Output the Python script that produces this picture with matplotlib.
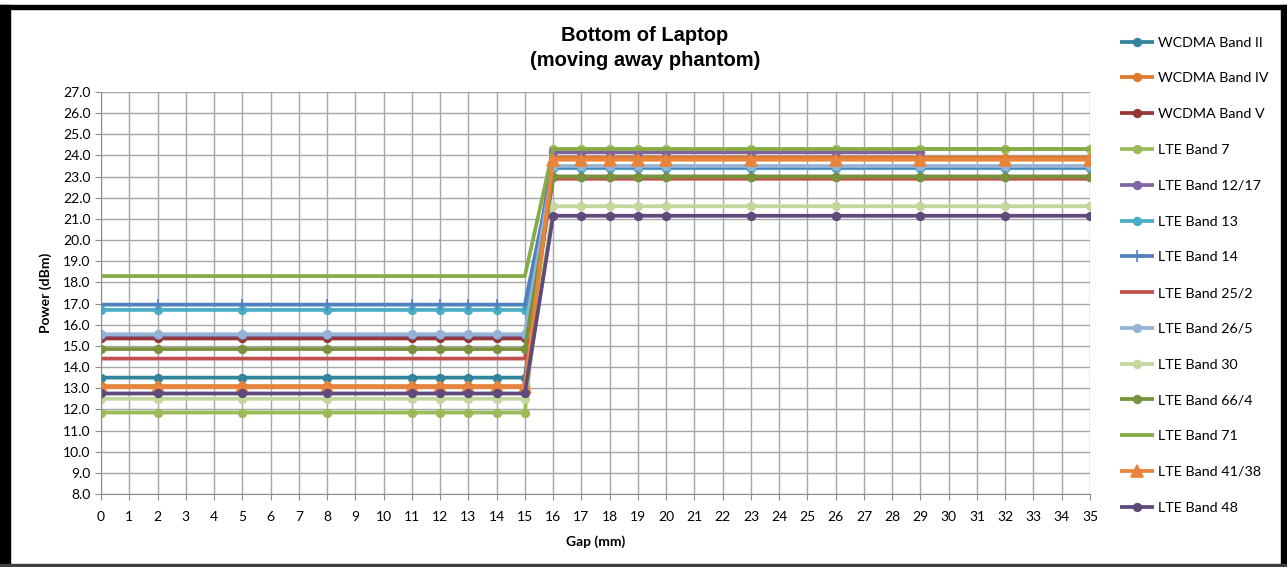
import matplotlib
matplotlib.use('Agg')
import matplotlib.pyplot as plt
from matplotlib.patches import Rectangle

# --- data ---
gap = [0, 2, 5, 8, 11, 12, 13, 14, 15, 16, 17, 18, 19, 20, 23, 26, 29, 32, 35]
gap_1217 = [0, 2, 5, 8, 11, 12, 13, 14, 15, 16, 17, 18, 19, 20, 23, 26, 29]

wcdma_2 = [13.5, 13.5, 13.5, 13.5, 13.5, 13.5, 13.5, 13.5, 13.5, 23.4, 23.4, 23.4, 23.4, 23.4, 23.4, 23.4, 23.4, 23.4, 23.4]
wcdma_4 = [13.1, 13.1, 13.1, 13.1, 13.1, 13.1, 13.1, 13.1, 13.1, 23.9, 23.9, 23.9, 23.9, 23.9, 23.9, 23.9, 23.9, 23.9, 23.9]
wcdma_5 = [15.35, 15.35, 15.35, 15.35, 15.35, 15.35, 15.35, 15.35, 15.35, 23.0, 23.0, 23.0, 23.0, 23.0, 23.0, 23.0, 23.0, 23.0, 23.0]
lte_7 = [11.85, 11.85, 11.85, 11.85, 11.85, 11.85, 11.85, 11.85, 11.85, 24.3, 24.3, 24.3, 24.3, 24.3, 24.3, 24.3, 24.3, 24.3, 24.3]
lte_1217 = [15.5, 15.5, 15.5, 15.5, 15.5, 15.5, 15.5, 15.5, 15.5, 24.15, 24.15, 24.15, 24.15, 24.15, 24.15, 24.15, 24.15]
lte_13 = [16.7, 16.7, 16.7, 16.7, 16.7, 16.7, 16.7, 16.7, 16.7, 23.4, 23.4, 23.4, 23.4, 23.4, 23.4, 23.4, 23.4, 23.4, 23.4]
lte_14 = [16.95, 16.95, 16.95, 16.95, 16.95, 16.95, 16.95, 16.95, 16.95, 23.45, 23.45, 23.45, 23.45, 23.45, 23.45, 23.45, 23.45, 23.45, 23.45]
lte_252 = [14.4, 14.4, 14.4, 14.4, 14.4, 14.4, 14.4, 14.4, 14.4, 22.9, 22.9, 22.9, 22.9, 22.9, 22.9, 22.9, 22.9, 22.9, 22.9]
lte_265 = [15.55, 15.55, 15.55, 15.55, 15.55, 15.55, 15.55, 15.55, 15.55, 23.5, 23.5, 23.5, 23.5, 23.5, 23.5, 23.5, 23.5, 23.5, 23.5]
lte_30 = [12.5, 12.5, 12.5, 12.5, 12.5, 12.5, 12.5, 12.5, 12.5, 21.6, 21.6, 21.6, 21.6, 21.6, 21.6, 21.6, 21.6, 21.6, 21.6]
lte_664 = [14.85, 14.85, 14.85, 14.85, 14.85, 14.85, 14.85, 14.85, 14.85, 23.0, 23.0, 23.0, 23.0, 23.0, 23.0, 23.0, 23.0, 23.0, 23.0]
lte_71 = [18.3, 18.3, 18.3, 18.3, 18.3, 18.3, 18.3, 18.3, 18.3, 24.3, 24.3, 24.3, 24.3, 24.3, 24.3, 24.3, 24.3, 24.3, 24.3]
lte_4138 = [13.05, 13.05, 13.05, 13.05, 13.05, 13.05, 13.05, 13.05, 13.05, 23.8, 23.8, 23.8, 23.8, 23.8, 23.8, 23.8, 23.8, 23.8, 23.8]
lte_48 = [12.75, 12.75, 12.75, 12.75, 12.75, 12.75, 12.75, 12.75, 12.75, 21.15, 21.15, 21.15, 21.15, 21.15, 21.15, 21.15, 21.15, 21.15, 21.15]

# (label, x, y, color, marker)
series = [
    ('WCDMA Band II', gap, wcdma_2, '#31849B', 'o'),
    ('WCDMA Band IV', gap, wcdma_4, '#E07A2E', 'o'),
    ('WCDMA Band V', gap, wcdma_5, '#953735', 'o'),
    ('LTE Band 7', gap, lte_7, '#9BBB59', 'o'),
    ('LTE Band 12/17', gap_1217, lte_1217, '#8064A2', 'o'),
    ('LTE Band 13', gap, lte_13, '#4BACC6', 'o'),
    ('LTE Band 14', gap, lte_14, '#4F81BD', '+'),
    ('LTE Band 25/2', gap, lte_252, '#C0504D', None),
    ('LTE Band 26/5', gap, lte_265, '#95B3D7', 'o'),
    ('LTE Band 30', gap, lte_30, '#C3D69B', 'o'),
    ('LTE Band 66/4', gap, lte_664, '#77933C', 'o'),
    ('LTE Band 71', gap, lte_71, '#86AC47', None),
    ('LTE Band 41/38', gap, lte_4138, '#E8843C', '^'),
    ('LTE Band 48', gap, lte_48, '#604A7B', 'o'),
]

plt.rcParams['font.family'] = ['Lato', 'DejaVu Sans']

fig = plt.figure(figsize=(12.87, 5.67), dpi=100)
ax = fig.add_axes([101 / 1287, 1 - 494 / 567, (1090 - 101) / 1287, (494 - 92) / 567])

for label, xs, ys, color, marker in series:
    ms = 9 if marker == '^' else (8 if marker == '+' else 5.5)
    ax.plot(xs, ys, color=color, linewidth=2.7, marker=marker, markersize=ms,
            markeredgewidth=1.2, label=label, solid_capstyle='butt')

ax.set_xlim(0, 35)
ax.set_ylim(8, 27)
ax.set_xticks(range(0, 36))
ax.set_yticks(range(8, 28))
ax.set_yticklabels([f'{v:.1f}' for v in range(8, 28)])
ax.grid(True, color='#A6A6A6', linewidth=1.0)
ax.set_axisbelow(True)
for side in ['top', 'right']:
    ax.spines[side].set_visible(False)
for side in ['left', 'bottom']:
    ax.spines[side].set_color('#8C8C8C')
ax.tick_params(axis='both', labelsize=10, colors='#8C8C8C', labelcolor='black', length=4)
ax.tick_params(axis='x', pad=8)

ax.set_xlabel('Gap (mm)', fontsize=10, fontweight='bold', labelpad=9)
ax.set_ylabel('Power (dBm)', fontsize=10, fontweight='bold', labelpad=8)

fig.text(645 / 1287, 1 - 48 / 567, 'Bottom of Laptop\n(moving away phantom)',
         ha='center', va='center', fontsize=14.5, fontweight='bold',
         family=['Liberation Sans', 'DejaVu Sans'], linespacing=1.35)

fig.legend(loc='upper left', bbox_to_anchor=(1114 / 1287, 1 - 31 / 567),
           frameon=False, fontsize=10.3, handlelength=2.4, handletextpad=0.3,
           labelspacing=1.66, borderaxespad=0)

# outer black frame
fig.add_artist(Rectangle((0, 0), 10 / 1287, 1 - 5 / 567, transform=fig.transFigure,
                         color='black', zorder=10))
fig.add_artist(Rectangle((0, 1 - 9 / 567), 1, 4 / 567, transform=fig.transFigure,
                         color='black', zorder=10))
fig.add_artist(Rectangle((1281 / 1287, 0), 6 / 1287, 1 - 5 / 567, transform=fig.transFigure,
                         color='black', zorder=10))
fig.add_artist(Rectangle((0, 0), 1, 3 / 567, transform=fig.transFigure,
                         color='#404040', zorder=10))

fig.savefig('out.png', dpi=100)
